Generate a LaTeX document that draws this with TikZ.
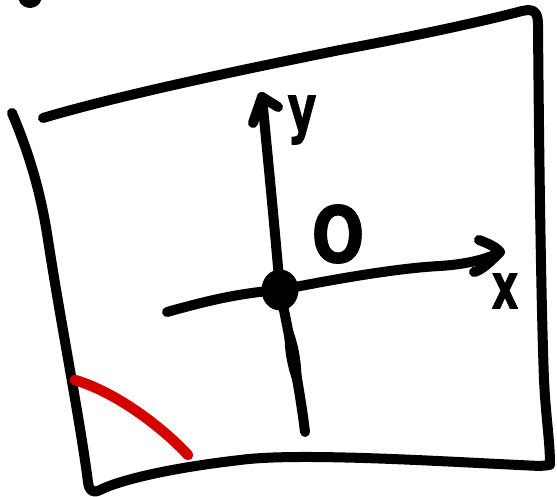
\documentclass[tikz,border=0pt]{standalone}
\usepackage{fontspec}
\setmainfont{DejaVu Sans}
\newfontfamily\handfont{DejaVu Sans}[BoldFeatures={FakeBold=1.2}]
\usetikzlibrary{shapes.geometric}
\definecolor{redc}{HTML}{D40000}
\begin{document}
\begin{tikzpicture}[x=1pt,y=-1pt,line cap=round,line join=round,
  ink/.style={line width=10pt,black},
  redink/.style={line width=10.5pt,draw=redc},
  lbl/.style={font=\handfont\bfseries\fontsize{64}{64}\selectfont,inner sep=0pt}]
\useasboundingbox (0,0) rectangle (557,497);
% frame
\draw[ink] (43,118) .. controls (120,95) and (250,68) .. (340,50)
  .. controls (420,35) and (480,22) .. (522,11)
  .. controls (535,8) and (538,13) .. (538,25)
  .. controls (539,150) and (541,300) .. (544,380)
  .. controls (546,420) and (550,440) .. (550,465)
  -- (540,466) .. controls (450,462) and (300,452) .. (240,460)
  .. controls (170,468) and (120,480) .. (100,490)
  .. controls (92,494) and (89,490) .. (88,482)
  .. controls (80,420) and (62,330) .. (48,240)
  .. controls (42,200) and (32,160) .. (12,113);
\draw[ink] (24,0) .. controls (27,4) and (33,4) .. (36,0);
% red stroke
\draw[redink] (75,380) .. controls (115,392) and (160,425) .. (188,455);
% axes
\coordinate (ytip) at (262,97);
\coordinate (ybot) at (305,432);
\coordinate (xleft) at (167,312);
\coordinate (xtip) at (500,252);
\node[ellipse,fill=black,minimum width=37pt,minimum height=41pt,inner sep=0pt] (o) at (280,290) {};
\draw[ink] (ytip) .. controls (268,160) and (274,220) .. (o.center);
\draw[ink] (253,123) -- (ytip) -- (278,107);
\draw[ink] (o.center) .. controls (290,340) and (300,390) .. (ybot);
\fill (287,318) .. controls (280,345) and (290,380) .. (300,398)
  .. controls (304,375) and (300,340) .. (287,318) -- cycle;
\draw[ink] (xleft) .. controls (210,300) and (240,293) .. (o.center)
  .. controls (340,278) and (400,268) .. (440,266)
  .. controls (470,264) and (490,258) .. (xtip);
\draw[ink] (479,240) .. controls (490,244) and (497,248) .. (xtip)
  .. controls (490,262) and (482,270) .. (474,272);
% labels
\node[lbl,xscale=0.7] (ylab) at (302,120) {y};
\node[lbl,xscale=0.8,font=\handfont\bfseries\fontsize{78}{78}\selectfont] (olab) at (338,234) {O};
\node[lbl,xscale=0.65] (xlab) at (505,291) {x};
\end{tikzpicture}
\end{document}
